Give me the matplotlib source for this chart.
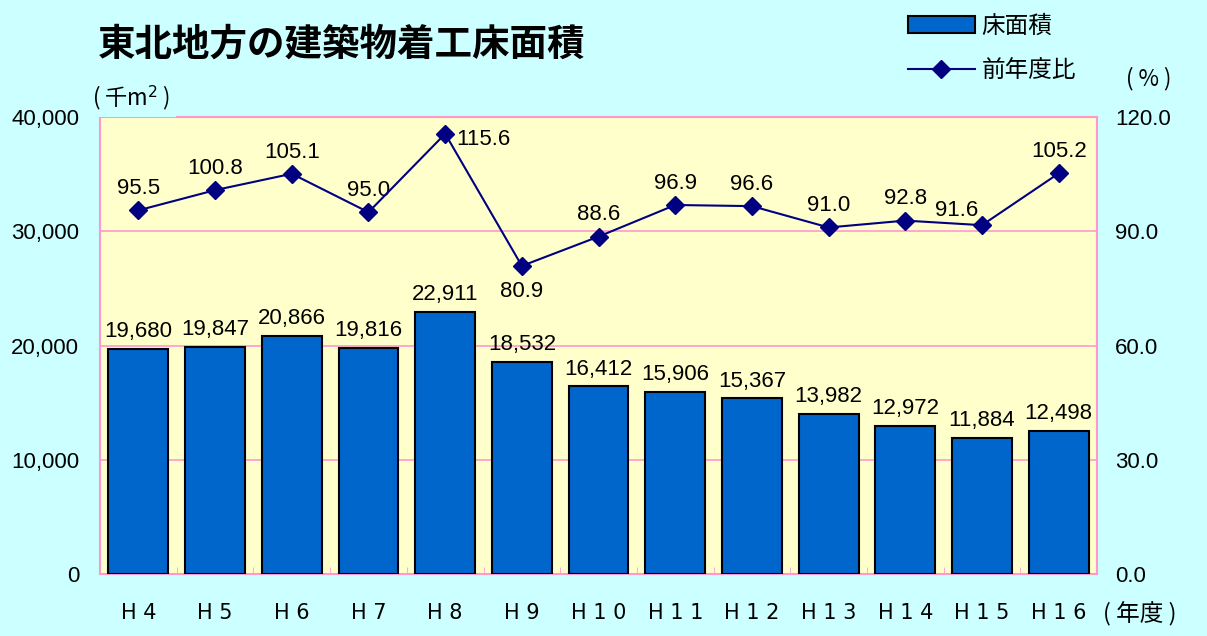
import matplotlib.pyplot as plt
from matplotlib import font_manager
import numpy as np

plt.rcParams['font.family'] = ['Liberation Sans', 'Noto Sans CJK JP', 'DejaVu Sans']

years = ['H 4', 'H 5', 'H 6', 'H 7', 'H 8', 'H 9', 'H 1 0', 'H 1 1', 'H 1 2',
         'H 1 3', 'H 1 4', 'H 1 5', 'H 1 6']
floor_area = [19680, 19847, 20866, 19816, 22911, 18532, 16412, 15906, 15367,
              13982, 12972, 11884, 12498]
yoy_ratio = [95.5, 100.8, 105.1, 95.0, 115.6, 80.9, 88.6, 96.9, 96.6,
             91.0, 92.8, 91.6, 105.2]

bg = '#CCFFFF'
pink = '#FF99CC'
jp = ['Noto Sans CJK JP', 'DejaVu Sans']

# narrow face for the year labels, if one is installed
installed = {f.name for f in font_manager.fontManager.ttflist}
narrow = 'Liberation Sans Narrow' if 'Liberation Sans Narrow' in installed else 'DejaVu Sans'

fig = plt.figure(figsize=(12.07, 6.36), dpi=100, facecolor=bg)
ax = fig.add_axes([0.0829, 0.0975, 0.826, 0.7185])
ax.set_facecolor('#FFFFCC')

x = np.arange(len(years))
bars = ax.bar(x, floor_area, width=0.78, color='#0066CC', edgecolor='black',
              linewidth=1.5, zorder=3, label='床面積')
ax.set_xlim(-0.5, len(years) - 0.5)
ax.set_ylim(0, 40000)
ax.set_yticks(range(0, 40001, 10000))
ax.set_yticklabels([f'{v:,}' for v in range(0, 40001, 10000)], fontsize=16)
ax.grid(axis='y', color=pink, linewidth=1.2, zorder=1)
ax.set_xticks(x)
ax.set_xticklabels(years, fontsize=15, family=narrow)
ax.set_xticks(np.arange(-0.5, len(years)), minor=True)
ax.tick_params(axis='x', which='major', length=0, pad=21)
ax.tick_params(axis='x', which='minor', direction='in', length=5, color=pink)
ax.tick_params(axis='y', length=0, pad=15)
for s in ax.spines.values():
    s.set_color(pink)
    s.set_linewidth(1.5)

for xi, v in zip(x, floor_area):
    ax.text(xi, v + 600, f'{v:,}', ha='center', va='bottom', fontsize=16, zorder=5)

ax2 = ax.twinx()
ax2.set_ylim(0, 120)
ax2.set_yticks(range(0, 121, 30))
ax2.set_yticklabels([f'{v:.1f}' for v in range(0, 121, 30)], fontsize=16)
ax2.tick_params(axis='y', length=0, pad=13)
for s in ax2.spines.values():
    s.set_visible(False)
line, = ax2.plot(x, yoy_ratio, color='#000080', linewidth=1.5, marker='D',
                 markersize=9.5, zorder=4, label='前年度比')

for xi, v in zip(x, yoy_ratio):
    if v == 80.9:
        ax2.annotate(f'{v:.1f}', (xi, v), xytext=(0, -11), textcoords='offset points',
                     ha='center', va='top', fontsize=16)
    elif v == 115.6:
        ax2.annotate(f'{v:.1f}', (xi, v), xytext=(8, -4), textcoords='offset points',
                     ha='left', va='center', fontsize=16)
    elif v == 91.6:
        ax2.annotate(f'{v:.1f}', (xi, v), xytext=(-18, 3), textcoords='offset points',
                     ha='center', va='bottom', fontsize=16)
    else:
        ax2.annotate(f'{v:.1f}', (xi, v), xytext=(0, 8), textcoords='offset points',
                     ha='center', va='bottom', fontsize=16)

fig.text(0.081, 0.93, '東北地方の建築物着工床面積', fontsize=27, fontweight='bold',
         family=jp, va='center')
fig.text(0.076, 0.847, '( 千m$^2$ )', fontsize=16, va='center', family=jp,
         bbox=dict(facecolor=bg, edgecolor='none', pad=4))
fig.text(0.933, 0.876, '( % )', fontsize=16, va='center', family=jp)
fig.text(0.914, 0.034, '( 年度 )', fontsize=17, va='center', family=jp)

leg = fig.legend([bars, line], ['床面積', '前年度比'], loc='upper left',
                 bbox_to_anchor=(0.735, 1.01), frameon=False,
                 handlelength=2.8, handletextpad=0.3, labelspacing=0.9,
                 prop={'family': jp, 'size': 17})

fig.savefig('out.png', dpi=100, facecolor=bg)
